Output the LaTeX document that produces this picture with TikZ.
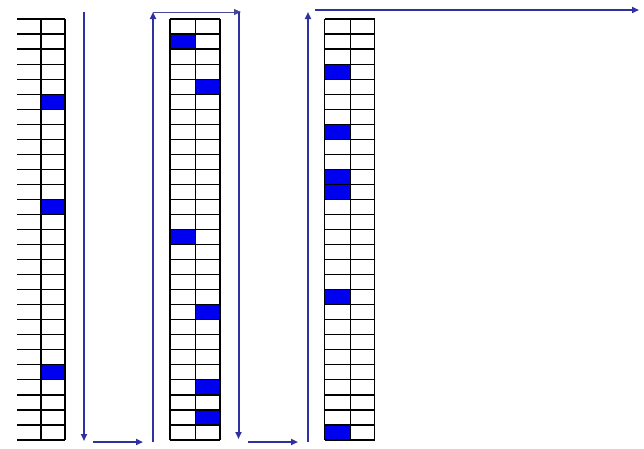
\documentclass[tikz,border=0pt]{standalone}
\usetikzlibrary{arrows.meta}
\definecolor{arrowblue}{RGB}{48,48,160}
\definecolor{cellblue}{RGB}{0,0,240}
\tikzset{
  gridline/.style={black, line width=1.2pt},
  cell/.style={fill=cellblue, draw=black, line width=1.2pt},
  flow/.style={arrowblue, line width=2pt, -{Triangle[length=7pt,width=6pt]}},
  thinflow/.style={arrowblue!70!gray, line width=1pt, -{Triangle[length=7pt,width=6pt]}},
  plain/.style={arrowblue, line width=2pt}
}
\newcommand{\rowh}{15.036}
\begin{document}
\begin{tikzpicture}[x=1pt,y=-1pt]
\useasboundingbox (0,0) rectangle (644,448);
% ---------- grid 1 (left border cropped) ----------
\foreach \r/\c in {5/1,12/1,23/1}{
  \fill[cellblue] (41+\c*0-0,{19+\r*\rowh}) rectangle (65,{19+(\r+1)*\rowh});
}
\foreach \i in {0,...,28}{
  \draw[gridline] (17,{19+\i*\rowh}) -- (65,{19+\i*\rowh});
}
\draw[gridline] (41,19) -- (41,440);
\draw[gridline] (65,19) -- (65,440);
% ---------- grid 2 ----------
\foreach \r/\xa/\xb in {1/170/195.5,4/195.5/220,14/170/195.5,19/195.5/220,24/195.5/220,26/195.5/220}{
  \fill[cellblue] (\xa,{19+\r*\rowh}) rectangle (\xb,{19+(\r+1)*\rowh});
}
\foreach \i in {0,...,28}{
  \draw[gridline] (170,{19+\i*\rowh}) -- (220,{19+\i*\rowh});
}
\draw[gridline] (170,19) -- (170,440);
\draw[gridline] (195.5,19) -- (195.5,440);
\draw[gridline] (220,19) -- (220,440);
% ---------- grid 3 ----------
\foreach \r in {3,7,10,11,18,27}{
  \fill[cellblue] (324.5,{19+\r*\rowh}) rectangle (350.5,{19+(\r+1)*\rowh});
}
\foreach \i in {0,...,28}{
  \draw[gridline] (324.5,{19+\i*\rowh}) -- (374.5,{19+\i*\rowh});
}
\draw[gridline] (324.5,19) -- (324.5,440);
\draw[gridline] (350.5,19) -- (350.5,440);
\draw[gridline] (374.5,19) -- (374.5,440);
% ---------- arrows ----------
\coordinate (d1s) at (84,12);   \coordinate (d1e) at (84,441);
\coordinate (h1s) at (93,442);  \coordinate (h1e) at (143,442);
\coordinate (u1s) at (153,442); \coordinate (u1e) at (153,12);
\coordinate (t1s) at (153,12);  \coordinate (t1e) at (241,12);
\coordinate (d2s) at (238.5,12);\coordinate (d2e) at (238.5,439);
\coordinate (h2s) at (248,442); \coordinate (h2e) at (298,442);
\coordinate (u2s) at (308,442); \coordinate (u2e) at (308,12);
\coordinate (t2s) at (315,10);  \coordinate (t2e) at (639,10);
\draw[flow] (d1s) -- (d1e);
\draw[flow] (h1s) -- (h1e);
\draw[flow] (u1s) -- (u1e);
\draw[thinflow] (t1s) -- (t1e);
\draw[flow] (d2s) -- (d2e);
\draw[flow] (h2s) -- (h2e);
\draw[flow] (u2s) -- (u2e);
\draw[flow] (t2s) -- (t2e);
\end{tikzpicture}
\end{document}
